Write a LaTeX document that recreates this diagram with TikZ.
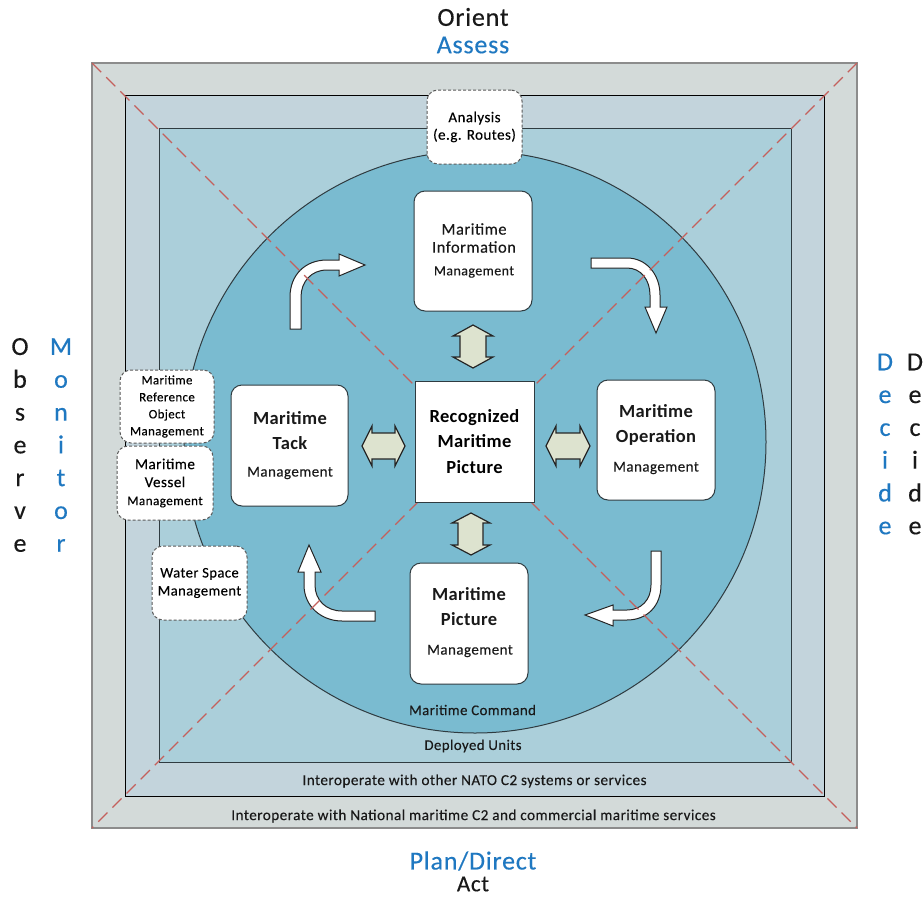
\documentclass[tikz,border=0pt]{standalone}
\usepackage{fontspec}
\setmainfont{Carlito}
\newfontfamily\rgf[LetterSpace=3,FakeBold=0.25]{Carlito}
\newfontfamily\hdfam[LetterSpace=2]{Carlito}
\newcommand{\hdf}{\hdfam\bfseries}
\newfontfamily\outf[LetterSpace=3,FakeBold=0.3]{Carlito}
\definecolor{outerfill}{HTML}{D3DAD9}
\definecolor{midfill}{HTML}{C3D4DC}
\definecolor{innerfill}{HTML}{ABCFDA}
\definecolor{circfill}{HTML}{7ABBD0}
\definecolor{bluetext}{HTML}{1F78C1}
\definecolor{diag}{HTML}{C4605C}
\definecolor{dbl}{HTML}{DDE3CF}
\definecolor{edge}{HTML}{2F3B40}
\newcommand{\fsz}[2]{\fontsize{#1}{#2}\selectfont}
\tikzset{
  corebox/.style={draw=edge,line width=1pt,fill=white,rounded corners=11pt,align=center,inner sep=0pt},
  dashbox/.style={draw=black!65,densely dashed,line width=1pt,fill=white,rounded corners=11pt,align=center,inner sep=0pt},
  flow/.style={draw=black!85,line width=1pt,fill=white,line join=miter},
  dblarrow/.style={draw=black!85,line width=1.2pt,fill=dbl,line join=miter},
  diagline/.style={draw=diag,line width=1.1pt,dash pattern=on 13pt off 7pt},
  lbl/.style={inner sep=0pt,align=center,text=black!90},
  big/.style={lbl,font=\outf\fsz{26}{28}},
  side/.style={lbl,font=\outf\fsz{26}{32.8}}
}
\begin{document}
\begin{tikzpicture}[x=1pt,y=-1pt]
\useasboundingbox (0,0) rectangle (924,897);
\fill[white] (0,0) rectangle (924,897);
\draw[fill=outerfill,draw=black!45,line width=1.2pt] (92,63) rectangle (857,828);
\draw[fill=midfill,draw=black,line width=1pt] (125,95) rectangle (824,796);
\draw[fill=innerfill,draw=edge,line width=1pt] (159,128) rectangle (791,762);
\draw[fill=circfill,draw=edge,line width=1pt] (475,442) circle[radius=291];
% block arrows of the cycle
\draw[flow] (290,329) -- (290,297) .. controls (290,275) and (305,260) .. (327,260) -- (339,260) -- (339,254) -- (365,265) -- (339,276) -- (339,270) -- (327,270) .. controls (311,270) and (301,282) .. (301,297) -- (301,329) -- cycle;
\draw[flow] (591,258) -- (627,258) .. controls (646,258) and (660,274) .. (660,295) -- (660,307) -- (667,307) -- (656,333) -- (645,307) -- (650,307) -- (650,295) .. controls (650,280) and (641,268) .. (627,268) -- (591,268) -- cycle;
\draw[flow] (661,551) -- (661,585) .. controls (661,606) and (647,620) .. (627,620) -- (613,620) -- (613,626) -- (585,615) -- (613,605) -- (613,610) -- (627,610) .. controls (641,610) and (651,600) .. (651,585) -- (651,551) -- cycle;
\draw[flow] (375,611) -- (342,611) .. controls (326,611) and (315,600) .. (315,585) -- (315,572) -- (321,572) -- (309,545) -- (298,572) -- (304,572) -- (304,585) .. controls (304,606) and (321,621) .. (342,621) -- (375,621) -- cycle;
% diagonals
\coordinate (tl) at (92,63);
\coordinate (br) at (857,828);
\coordinate (tr) at (857,63);
\coordinate (bl) at (92,828);
\draw[diagline] (tl) -- (br);
\draw[diagline] (tr) -- (bl);
% double arrows
\draw[dblarrow] (473,325) -- (493,336) -- (486,336) -- (486,357) -- (493,357) -- (473,368) -- (453,357) -- (460,357) -- (460,336) -- (453,336) -- cycle;
\draw[dblarrow] (471,513) -- (490,523) -- (483,523) -- (483,545) -- (490,545) -- (471,555) -- (452,545) -- (458,545) -- (458,523) -- (452,523) -- cycle;
\draw[dblarrow] (362,446) -- (372,426) -- (372,433) -- (395,433) -- (395,426) -- (405,446) -- (395,466) -- (395,459) -- (372,459) -- (372,466) -- cycle;
\draw[dblarrow] (546,446) -- (556,426) -- (556,433) -- (580,433) -- (580,426) -- (590,446) -- (580,466) -- (580,459) -- (556,459) -- (556,466) -- cycle;
% core nodes
\node[corebox,minimum width=118pt,minimum height=120pt] (info) at (473,251) {};
\node[lbl,font=\rgf\fsz{16.5}{18}] (infot) at (474,238) {Maritime\\Information};
\node[lbl,font=\rgf\fsz{14}{15}] (infom) at (474,272) {Management};
\node[corebox,minimum width=118pt,minimum height=120pt] (oper) at (656,440) {};
\node[lbl,font=\hdf\fsz{18.5}{25}] (opert) at (656,425) {Maritime\\Operation};
\node[lbl,font=\rgf\fsz{15}{15}] (operm) at (656,468) {Management};
\node[corebox,minimum width=118pt,minimum height=121pt] (pict) at (469,623.5) {};
\node[lbl,font=\hdf\fsz{18.5}{25}] (pictt) at (469,607) {Maritime\\Picture};
\node[lbl,font=\rgf\fsz{15}{15}] (pictm) at (470,651) {Management};
\node[corebox,minimum width=117pt,minimum height=121pt] (tack) at (289.5,445.5) {};
\node[lbl,font=\hdf\fsz{18.5}{25}] (tackt) at (290,431) {Maritime\\Tack};
\node[lbl,font=\rgf\fsz{15}{15}] (tackm) at (290,473) {Management};
\node[draw=edge,line width=1pt,fill=white,minimum width=119pt,minimum height=121pt,inner sep=0pt,align=center,font=\hdf\fsz{18.5}{25.5}] (rmp) at (474.5,441.5) {Recognized\\Maritime\\Picture};
% dashed nodes
\node[dashbox,minimum width=95pt,minimum height=74pt,font=\rgf\fsz{15}{17.5}] (ana) at (474.5,127) {Analysis\\(e.g. Routes)};
\node[dashbox,minimum width=94pt,minimum height=73pt,font=\rgf\fsz{12.9}{17}] (mro) at (167,406.5) {Maritime\\Reference\\Object\\Management};
\node[dashbox,minimum width=96pt,minimum height=74pt,font=\rgf\fsz{13.2}{18}] (mvm) at (165,483) {\fsz{15.2}{18}Maritime\\\fsz{15.2}{18}Vessel\\Management};
\node[dashbox,minimum width=95pt,minimum height=74pt,font=\rgf\fsz{14.6}{18}] (wsm) at (199.5,583) {Water Space\\Management};
% ring labels
\node[lbl,font=\rgf\fsz{14.8}{15}] (mc) at (472.5,710) {Maritime Command};
\node[lbl,font=\rgf\fsz{14.8}{15}] (du) at (473,746) {Deployed Units};
\node[lbl,font=\rgf\fsz{15.2}{15}] (nato) at (474.5,781) {Interoperate with other NATO C2 systems or services};
\node[lbl,font=\rgf\fsz{15.2}{15}] (natl) at (473.5,816) {Interoperate with National maritime C2 and commercial maritime services};
% outer labels
\node[big] (orient) at (473,17) {Orient};
\node[big,text=bluetext] (assess) at (473,45) {Assess};
\node[big,text=bluetext] (plan) at (473,861) {Plan/Direct};
\node[lbl,font=\outf\fsz{23}{25}] (act) at (473,884) {Act};
\node[side] (obs) at (20,445) {O\\b\\s\\e\\r\\v\\e};
\node[side,text=bluetext] (mon) at (61,445) {M\\o\\n\\i\\t\\o\\r};
\node[side,text=bluetext] (dec1) at (885,444) {D\\e\\c\\i\\d\\e};
\node[side] (dec2) at (915,444) {D\\e\\c\\i\\d\\e};
\end{tikzpicture}
\end{document}
